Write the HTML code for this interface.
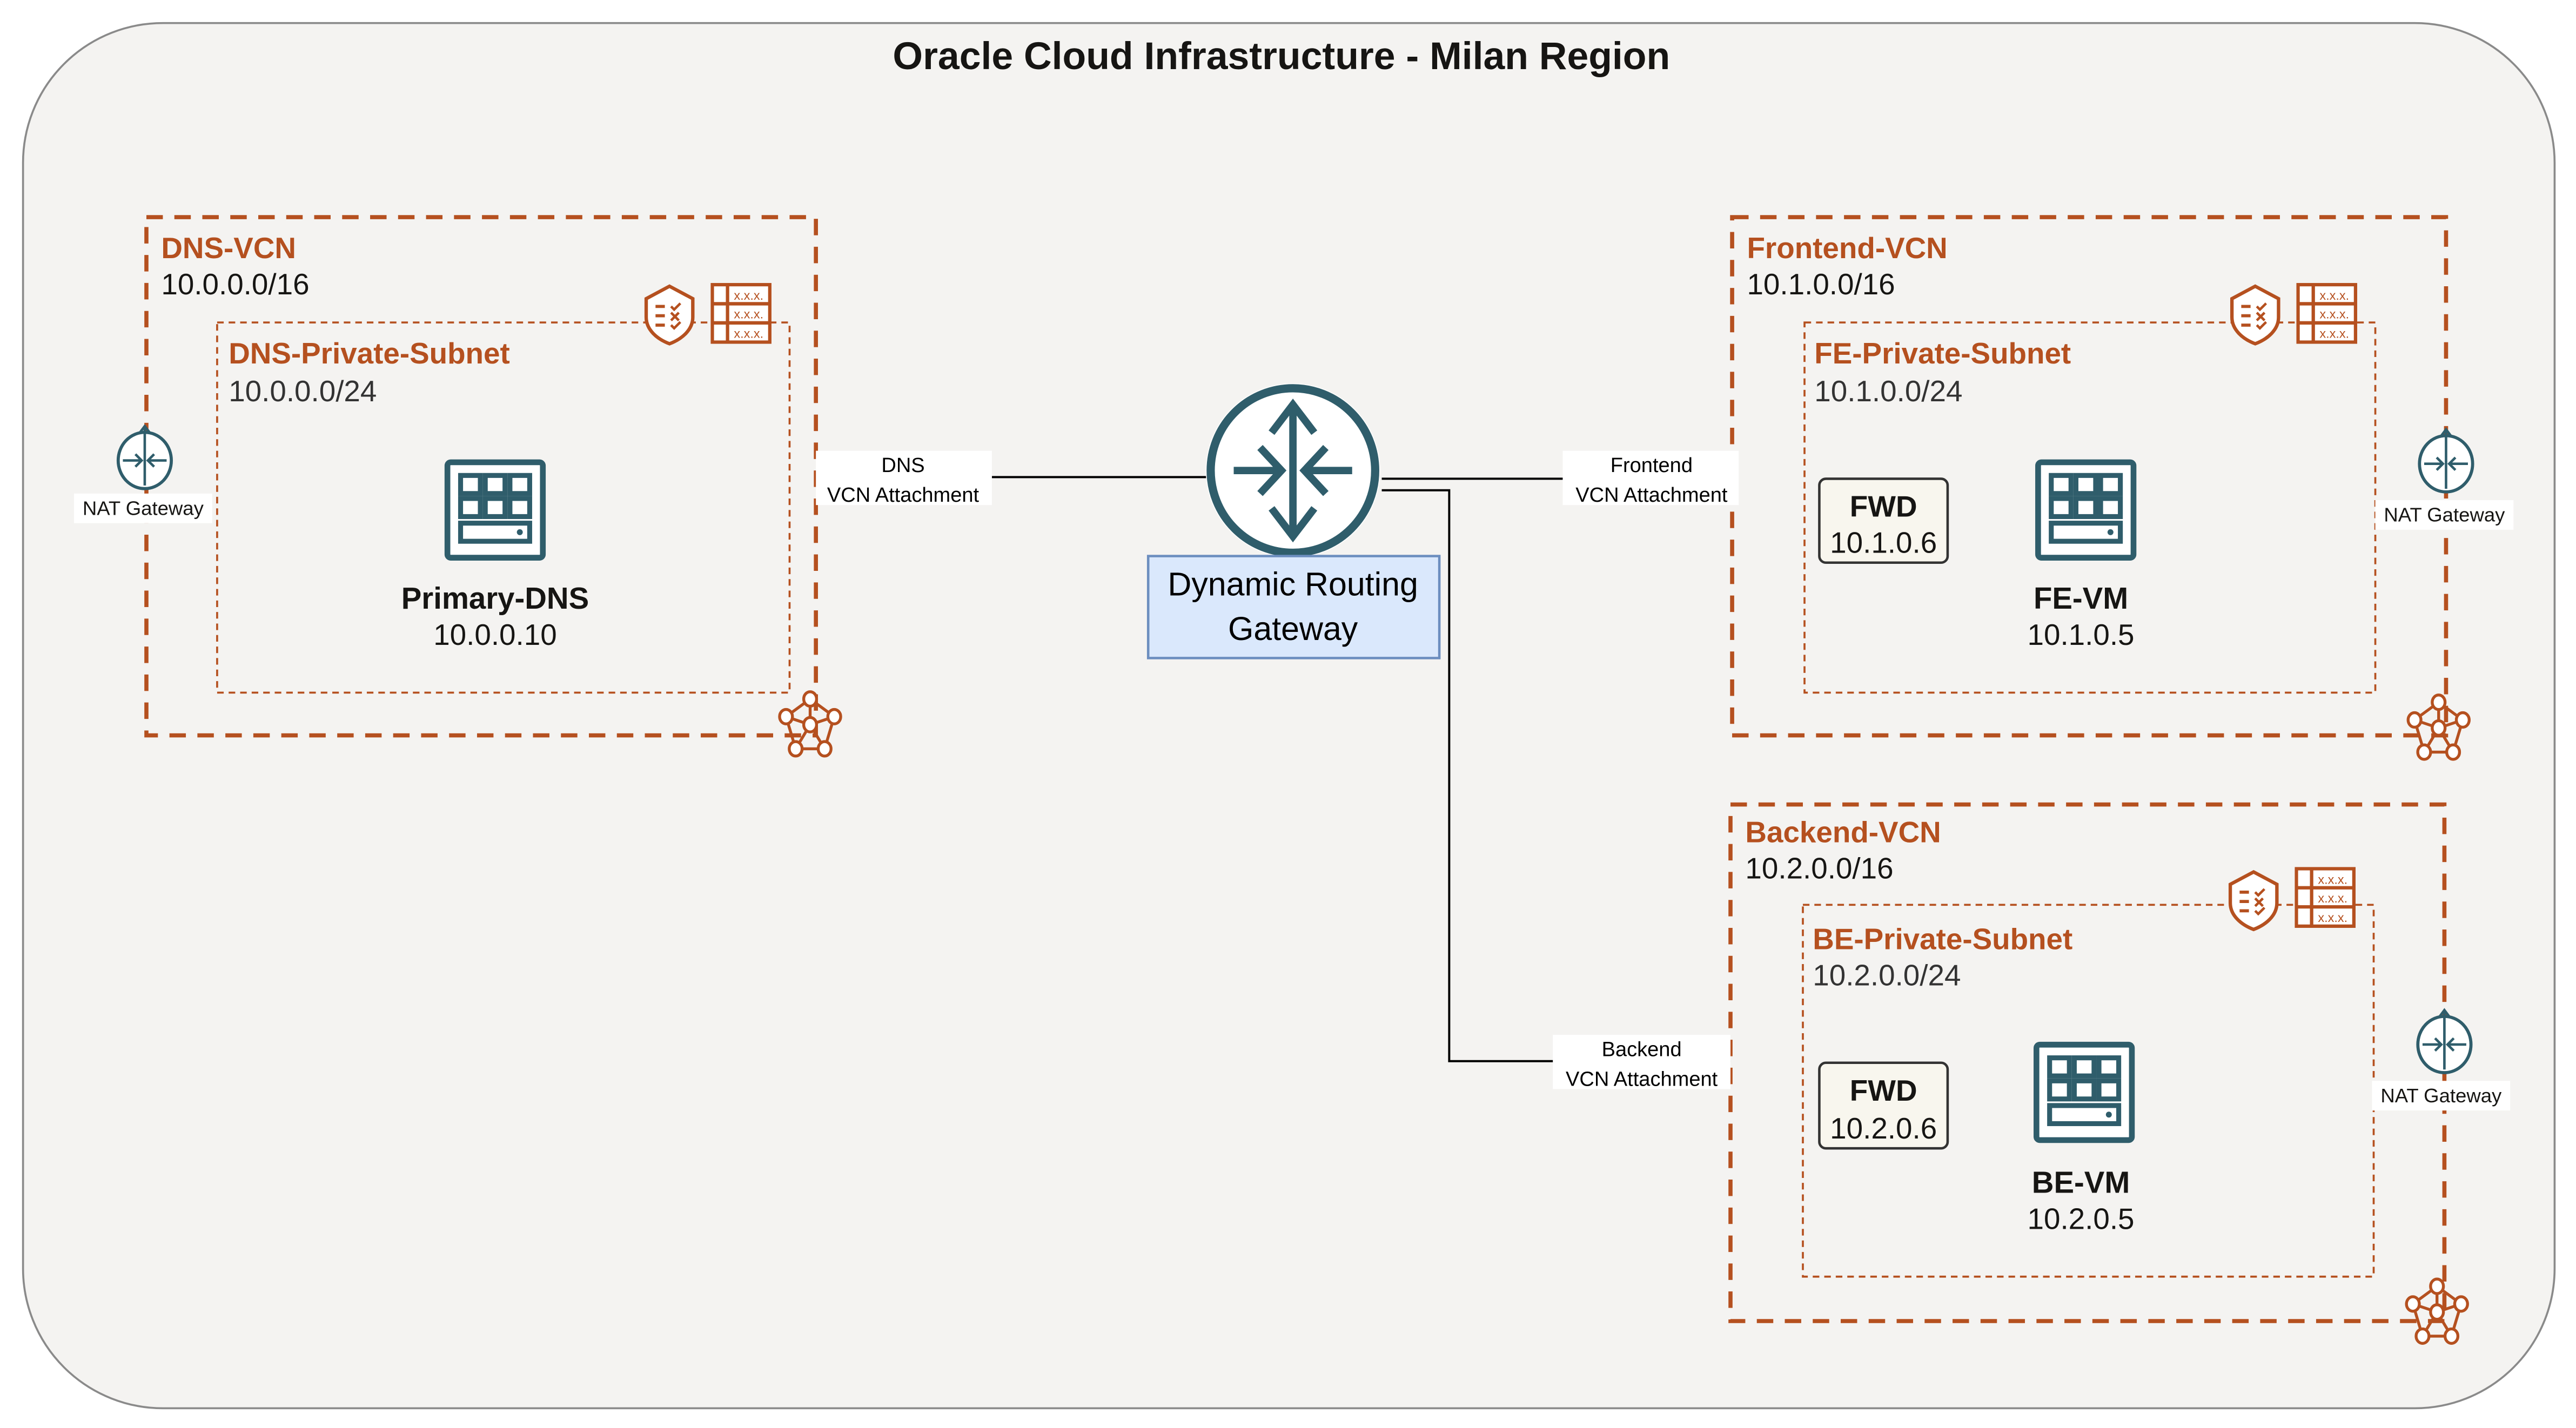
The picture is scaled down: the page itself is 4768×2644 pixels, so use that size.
<!DOCTYPE html>
<html><head><meta charset="utf-8"><style>
html,body{margin:0;padding:0;width:4768px;height:2644px;overflow:hidden;background:#fff}
svg{display:block}
text{font-family:"Liberation Sans",sans-serif}
</style></head><body>
<svg width="4768" height="2644" viewBox="0 0 1566 868" preserveAspectRatio="none" xmlns="http://www.w3.org/2000/svg">
<defs>
<symbol id="shield" viewBox="0 0 36 40">
<path d="M18 2 L33 10 L33 22 C33 30 26 36 18 39 C10 36 3 30 3 22 L3 10 Z" fill="#fff" stroke="#b5501f" stroke-width="2.2"/>
<path d="M9 15h6M9 21h6M9 27h6" stroke="#b5501f" stroke-width="2"/>
<path d="M19 15l2 2 4-4M19 19l5 5M24 19l-5 5M19 27l2 2 4-4" stroke="#b5501f" stroke-width="1.6" fill="none"/>
</symbol>
<symbol id="table" viewBox="0 0 36 36">
<rect x="1" y="1" width="34" height="34" fill="#fff" stroke="#b5501f" stroke-width="2"/>
<path d="M1 12.3h34M1 23.6h34M10 1v34" stroke="#b5501f" stroke-width="2"/>
<text x="22.5" y="10" font-size="7.5" text-anchor="middle" fill="#b5501f">x.x.x.</text>
<text x="22.5" y="21" font-size="7.5" text-anchor="middle" fill="#b5501f">x.x.x.</text>
<text x="22.5" y="32.5" font-size="7.5" text-anchor="middle" fill="#b5501f">x.x.x.</text>
</symbol>
<symbol id="server" viewBox="0 0 62 62">
<rect x="2" y="2" width="58" height="58" rx="2" fill="#fff" stroke="#2f5d6b" stroke-width="3.5"/>
<g fill="none" stroke="#2f5d6b" stroke-width="3">
<rect x="10" y="10" width="12" height="11"/><rect x="25" y="10" width="12" height="11"/><rect x="40" y="10" width="12" height="11"/>
<rect x="10" y="24" width="12" height="11"/><rect x="25" y="24" width="12" height="11"/><rect x="40" y="24" width="12" height="11"/>
<rect x="10" y="39" width="42" height="11"/></g>
<circle cx="46" cy="44.5" r="1.8" fill="#2f5d6b"/>
</symbol>
<symbol id="nat" viewBox="0 0 40 44">
<ellipse cx="20" cy="24" rx="17" ry="18" fill="#fff" stroke="#2f5d6b" stroke-width="2"/>
<path d="M20 2v38M17 6l3-4 3 4M6 24h11M34 24h-11M14 20l4 4-4 4M26 20l-4 4 4 4" stroke="#2f5d6b" stroke-width="1.6" fill="none"/>
</symbol>
<symbol id="net" viewBox="0 0 44 44">
<g stroke="#b5501f" stroke-width="1.8" fill="none">
<path d="M22 6 L7 17 M22 6 L37 17 M7 17 L13 37 M37 17 L31 37 M13 37 L31 37 M22 6 L22 22 M7 17 L22 22 M37 17 L22 22 M13 37 L22 22 M31 37 L22 22"/>
</g>
<g fill="#fff" stroke="#b5501f" stroke-width="1.8">
<ellipse cx="22" cy="6" rx="4" ry="4.5"/><ellipse cx="7" cy="17" rx="4" ry="4.5"/><ellipse cx="37" cy="17" rx="4" ry="4.5"/>
<ellipse cx="22" cy="22" rx="4" ry="4.5"/><ellipse cx="13" cy="37" rx="4" ry="4.5"/><ellipse cx="31" cy="37" rx="4" ry="4.5"/>
</g>
</symbol>
</defs>

<rect width="1566" height="868" fill="#fff"/>
<rect x="14" y="14" width="1539" height="842" rx="85" fill="#f4f3f1" stroke="#8a8a8a" stroke-width="1.2"/>
<text x="779" y="42" font-size="23.5" font-weight="bold" text-anchor="middle" fill="#161513">Oracle Cloud Infrastructure - Milan Region</text>

<g stroke="#000" stroke-width="1.3" fill="none">
<path d="M496 290H736"/>
<path d="M840 291H1053"/>
<path d="M840 298H881V645H1052"/>
</g>

<!-- DNS VCN -->
<rect x="89" y="132" width="407" height="315" fill="none" stroke="#b5501f" stroke-width="2.5" stroke-dasharray="10 7"/>
<text x="98" y="157" font-size="18" font-weight="bold" fill="#b5501f">DNS-VCN</text>
<text x="98" y="179" font-size="18" fill="#161513">10.0.0.0/16</text>
<rect x="132" y="196" width="348" height="225" fill="none" stroke="#b5501f" stroke-width="1.2" stroke-dasharray="4 3"/>
<text x="139" y="221" font-size="18" font-weight="bold" fill="#b5501f">DNS-Private-Subnet</text>
<text x="139" y="244" font-size="18" fill="#333">10.0.0.0/24</text>
<use href="#shield" x="390" y="171" width="34" height="40"/>
<use href="#table" x="432" y="172" width="37" height="37"/>
<use href="#server" x="270" y="279" width="62" height="62"/>
<text x="301" y="370" font-size="18.5" font-weight="bold" text-anchor="middle" fill="#161513">Primary-DNS</text>
<text x="301" y="392" font-size="18" text-anchor="middle" fill="#161513">10.0.0.10</text>
<use href="#nat" x="69" y="257" width="38" height="42"/>
<rect x="45" y="300" width="84" height="18" fill="#fff"/>
<text x="87" y="313" font-size="12" text-anchor="middle" fill="#161513">NAT Gateway</text>
<use href="#net" x="471" y="419" width="43" height="43"/>

<rect x="496" y="274" width="107" height="33" fill="#fff"/>
<text x="549" y="287" font-size="12.5" text-anchor="middle">DNS</text>
<text x="549" y="305" font-size="12.5" text-anchor="middle">VCN Attachment</text>

<!-- DRG -->
<circle cx="786" cy="286" r="53" fill="#fff"/>
<circle cx="786" cy="286" r="50" fill="#fff" stroke="#2f5d6b" stroke-width="5"/>
<g stroke="#2f5d6b" stroke-width="4.5" fill="none">
<path d="M786 249V323M773 263l13-17 13 17M773 309l13 17 13-17M750 286h30M822 286h-30M766 272l13 14-13 14M806 272l-13 14 13 14"/>
</g>
<rect x="698" y="338" width="177" height="62" fill="#dae8fc" stroke="#6c8ebf" stroke-width="1.5"/>
<text x="786" y="362" font-size="20" text-anchor="middle">Dynamic Routing</text>
<text x="786" y="389" font-size="20" text-anchor="middle">Gateway</text>

<!-- Frontend VCN -->
<rect x="1053" y="132" width="434" height="315" fill="none" stroke="#b5501f" stroke-width="2.5" stroke-dasharray="10 7"/>
<text x="1062" y="157" font-size="18" font-weight="bold" fill="#b5501f">Frontend-VCN</text>
<text x="1062" y="179" font-size="18" fill="#161513">10.1.0.0/16</text>
<rect x="1097" y="196" width="347" height="225" fill="none" stroke="#b5501f" stroke-width="1.2" stroke-dasharray="4 3"/>
<text x="1103" y="221" font-size="18" font-weight="bold" fill="#b5501f">FE-Private-Subnet</text>
<text x="1103" y="244" font-size="18" fill="#333">10.1.0.0/24</text>
<use href="#shield" x="1354" y="171" width="34" height="40"/>
<use href="#table" x="1396" y="172" width="37" height="37"/>
<rect x="1106" y="291" width="78" height="51" rx="4" fill="#f8f6ee" stroke="#333" stroke-width="1.5"/>
<text x="1145" y="314" font-size="18" font-weight="bold" text-anchor="middle" fill="#161513">FWD</text>
<text x="1145" y="336" font-size="18" text-anchor="middle" fill="#161513">10.1.0.6</text>
<use href="#server" x="1237" y="279" width="62" height="62"/>
<text x="1265" y="370" font-size="18.5" font-weight="bold" text-anchor="middle" fill="#161513">FE-VM</text>
<text x="1265" y="392" font-size="18" text-anchor="middle" fill="#161513">10.1.0.5</text>
<use href="#nat" x="1468" y="259" width="38" height="42"/>
<rect x="1444" y="304" width="84" height="18" fill="#fff"/>
<text x="1486" y="317" font-size="12" text-anchor="middle" fill="#161513">NAT Gateway</text>
<use href="#net" x="1461" y="421" width="43" height="43"/>
<rect x="950" y="274" width="107" height="33" fill="#fff"/>
<text x="1004" y="287" font-size="12.5" text-anchor="middle">Frontend</text>
<text x="1004" y="305" font-size="12.5" text-anchor="middle">VCN Attachment</text>

<!-- Backend VCN -->
<rect x="1052" y="489" width="434" height="314" fill="none" stroke="#b5501f" stroke-width="2.5" stroke-dasharray="10 7"/>
<text x="1061" y="512" font-size="18" font-weight="bold" fill="#b5501f">Backend-VCN</text>
<text x="1061" y="534" font-size="18" fill="#161513">10.2.0.0/16</text>
<rect x="1096" y="550" width="347" height="226" fill="none" stroke="#b5501f" stroke-width="1.2" stroke-dasharray="4 3"/>
<text x="1102" y="577" font-size="18" font-weight="bold" fill="#b5501f">BE-Private-Subnet</text>
<text x="1102" y="599" font-size="18" fill="#333">10.2.0.0/24</text>
<use href="#shield" x="1353" y="527" width="34" height="40"/>
<use href="#table" x="1395" y="527" width="37" height="37"/>
<rect x="1106" y="646" width="78" height="52" rx="4" fill="#f8f6ee" stroke="#333" stroke-width="1.5"/>
<text x="1145" y="669" font-size="18" font-weight="bold" text-anchor="middle" fill="#161513">FWD</text>
<text x="1145" y="692" font-size="18" text-anchor="middle" fill="#161513">10.2.0.6</text>
<use href="#server" x="1236" y="633" width="62" height="62"/>
<text x="1265" y="725" font-size="18.5" font-weight="bold" text-anchor="middle" fill="#161513">BE-VM</text>
<text x="1265" y="747" font-size="18" text-anchor="middle" fill="#161513">10.2.0.5</text>
<use href="#nat" x="1467" y="612" width="38" height="42"/>
<rect x="1442" y="657" width="84" height="18" fill="#fff"/>
<text x="1484" y="670" font-size="12" text-anchor="middle" fill="#161513">NAT Gateway</text>
<use href="#net" x="1460" y="776" width="43" height="43"/>
<rect x="944" y="629" width="108" height="33" fill="#fff"/>
<text x="998" y="642" font-size="12.5" text-anchor="middle">Backend</text>
<text x="998" y="660" font-size="12.5" text-anchor="middle">VCN Attachment</text>
</svg>
</body></html>
